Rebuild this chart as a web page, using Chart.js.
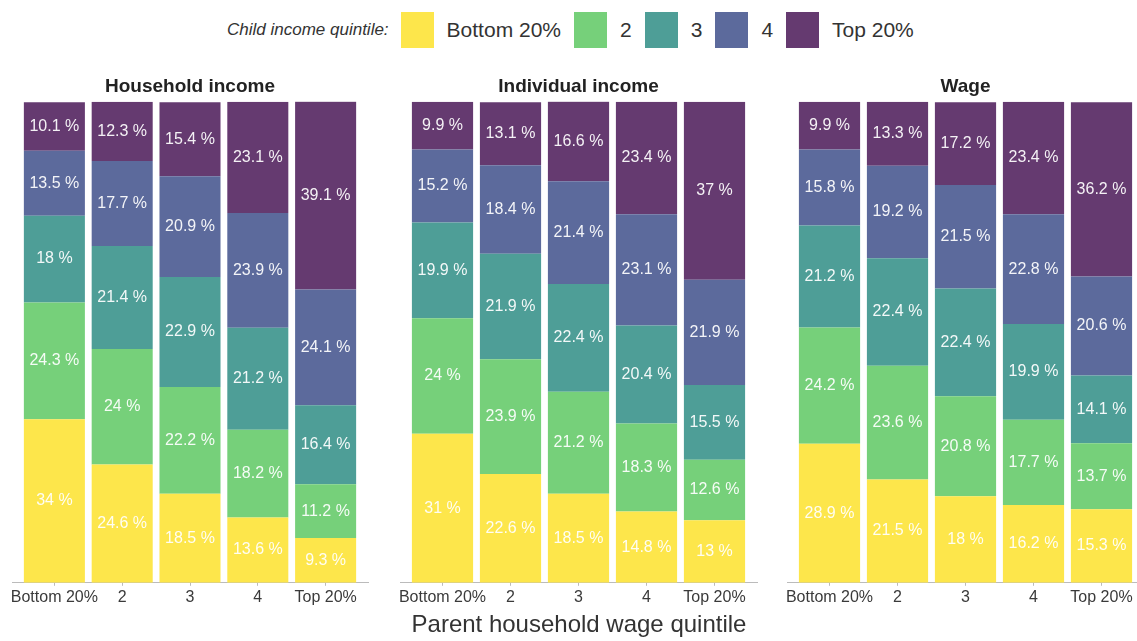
<!DOCTYPE html>
<html>
<head>
<meta charset="utf-8">
<script src="https://cdn.jsdelivr.net/npm/chart.js@4/dist/chart.umd.min.js"></script>
<style>
    html, body { margin: 0; padding: 0; background: #fff; overflow: hidden; }
    body { width: 1137px; height: 641px; position: relative; font-family: "Liberation Sans", Arial, sans-serif; }
    canvas { position: absolute; }
    #legend { position: absolute; left: 227px; top: 12px; height: 36px; display: flex; align-items: center; color: #333; font-size: 21px; white-space: nowrap; }
    #legend .ttl { font-style: italic; font-size: 17px; margin-right: 12px; }
    #legend .box { width: 33px; height: 36px; margin-right: 13px; }
    #legend .lbl { margin-right: 13px; }
    #xtitle { position: absolute; left: 0; width: 1158px; top: 610px; text-align: center; font-size: 24px; color: #333; }
</style>
</head>
<body>
<div id="legend"></div>
<canvas id="c1" width="376" height="543" style="left:2px; top:70px"></canvas>
<canvas id="c2" width="377" height="543" style="left:390px; top:70px"></canvas>
<canvas id="c3" width="377" height="543" style="left:777px; top:70px"></canvas>
<div id="xtitle">Parent household wage quintile</div>
<script>
// parent household wage quintile (x axis)
const parentQuintiles = ['Bottom 20%', '2', '3', '4', 'Top 20%'];
// child income quintile (stack order, bottom to top)
const childQuintiles = ['Bottom 20%', '2', '3', '4', 'Top 20%'];
const colors = ['#FDE64B', '#76D07A', '#4E9E97', '#5C6A9C', '#653A70'];

// Household income panel
const householdBottom = [34, 24.6, 18.5, 13.6, 9.3];
const household2 = [24.3, 24, 22.2, 18.2, 11.2];
const household3 = [18, 21.4, 22.9, 21.2, 16.4];
const household4 = [13.5, 17.7, 20.9, 23.9, 24.1];
const householdTop = [10.1, 12.3, 15.4, 23.1, 39.1];

// Individual income panel
const individualBottom = [31, 22.6, 18.5, 14.8, 13];
const individual2 = [24, 23.9, 21.2, 18.3, 12.6];
const individual3 = [19.9, 21.9, 22.4, 20.4, 15.5];
const individual4 = [15.2, 18.4, 21.4, 23.1, 21.9];
const individualTop = [9.9, 13.1, 16.6, 23.4, 37];

// Wage panel
const wageBottom = [28.9, 21.5, 18, 16.2, 15.3];
const wage2 = [24.2, 23.6, 20.8, 17.7, 13.7];
const wage3 = [21.2, 22.4, 22.4, 19.9, 14.1];
const wage4 = [15.8, 19.2, 21.5, 22.8, 20.6];
const wageTop = [9.9, 13.3, 17.2, 23.4, 36.2];

// legend (html, built from the arrays)
const legend = document.getElementById('legend');
legend.innerHTML = '<span class="ttl">Child income quintile:</span>' +
    childQuintiles.map((q, i) => '<span class="box" style="background:' + colors[i] + '"></span><span class="lbl">' + q + '</span>').join('');

// white value labels in the middle of each segment
const valueLabels = {
    id: 'valueLabels',
    afterDatasetsDraw(chart) {
        const ctx = chart.ctx;
        ctx.save();
        ctx.font = '16px "Liberation Sans", Arial, sans-serif';
        ctx.fillStyle = 'rgba(255,255,255,0.93)';
        ctx.textAlign = 'center';
        ctx.textBaseline = 'middle';
        chart.data.datasets.forEach((ds, i) => {
            chart.getDatasetMeta(i).data.forEach((bar, j) => {
                ctx.fillText(ds.data[j].y + ' %', bar.x, (bar.y + bar.base) / 2);
            });
        });
        ctx.restore();
    }
};

function drawPanel(id, title, series) {
    new Chart(document.getElementById(id), {
        type: 'bar',
        data: {
            datasets: series.map((vals, i) => ({
                label: childQuintiles[i],
                data: vals.map((v, j) => ({ x: j, y: v })),
                backgroundColor: colors[i],
                borderWidth: 0,
                categoryPercentage: 0.9,
                barPercentage: 1
            }))
        },
        options: {
            responsive: false,
            animation: false,
            layout: { padding: { left: 10, right: 10, top: 0, bottom: 4 } },
            plugins: {
                legend: { display: false },
                tooltip: { enabled: false },
                title: {
                    display: true,
                    text: title,
                    color: '#222',
                    font: { size: 19, weight: 'bold', family: '"Liberation Sans", Arial, sans-serif' },
                    padding: { top: 5, bottom: 4 }
                }
            },
            scales: {
                x: {
                    type: 'linear',
                    stacked: true,
                    offset: false,
                    bounds: 'data',
                    min: -0.625,
                    max: 4.625,
                    afterBuildTicks: s => { s.ticks = parentQuintiles.map((c, i) => ({ value: i })); },
                    grid: { drawOnChartArea: false, tickLength: 3, color: '#bbb', offset: false },
                    border: { color: '#bbb' },
                    ticks: {
                        padding: 2,
                        color: '#3a3a3a',
                        maxRotation: 0,
                        autoSkip: false,
                        font: { size: 16, family: '"Liberation Sans", Arial, sans-serif' },
                        callback: v => parentQuintiles[v]
                    }
                },
                y: {
                    display: false,
                    stacked: true,
                    min: 0,
                    max: 100
                }
            }
        },
        plugins: [valueLabels]
    });
}

drawPanel('c1', 'Household income', [householdBottom, household2, household3, household4, householdTop]);
drawPanel('c2', 'Individual income', [individualBottom, individual2, individual3, individual4, individualTop]);
drawPanel('c3', 'Wage', [wageBottom, wage2, wage3, wage4, wageTop]);
</script>
</body>
</html>
